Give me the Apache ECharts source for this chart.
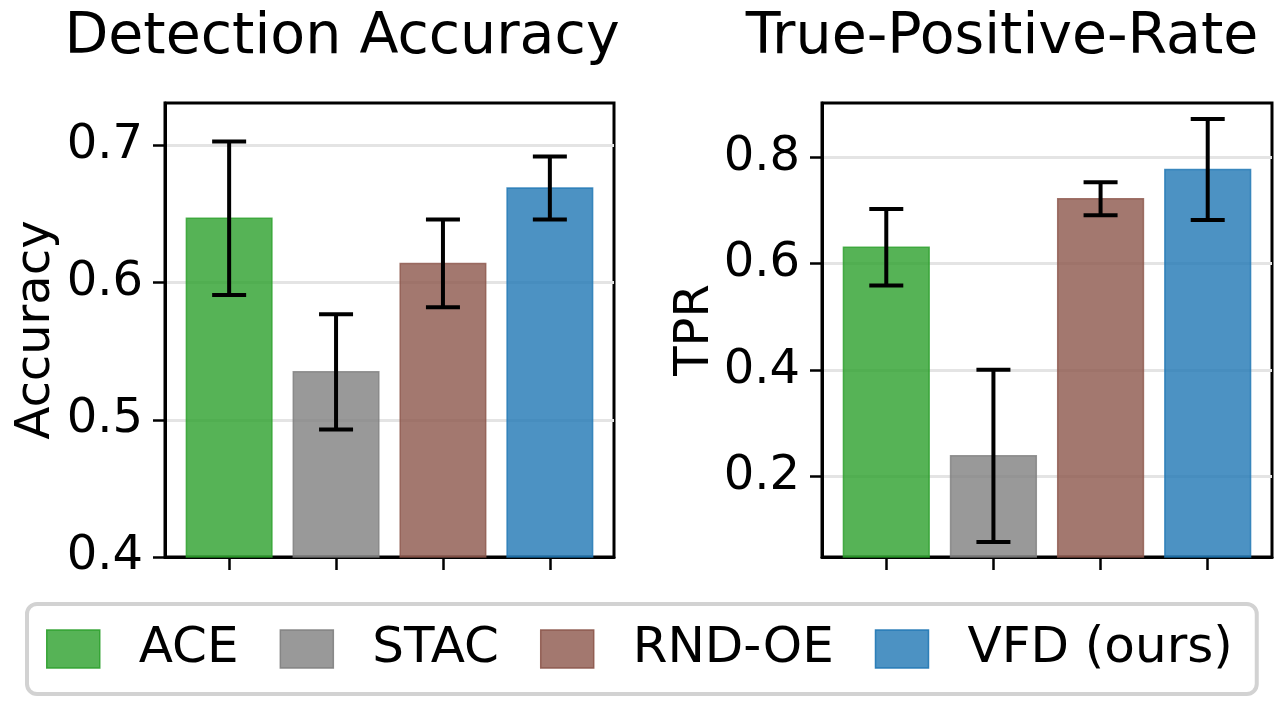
<!DOCTYPE html>
<html>
<head>
<meta charset="utf-8">
<script src="https://cdn.jsdelivr.net/npm/echarts@6/dist/echarts.min.js"></script>
<style>
    html, body { margin: 0; padding: 0; background: #fff; }
    #chart { width: 1280px; height: 703px; }
</style>
</head>
<body>
<div id="chart"></div>
<script>
// methods and their colours (matplotlib tab palette, drawn at alpha 0.8)
const methods = ['ACE', 'STAC', 'RND-OE', 'VFD (ours)'];
const colors = ['#2ca02c', '#7f7f7f', '#8c564b', '#1f77b4'];

// Detection accuracy: mean and std per method
const accMean = [0.647, 0.535, 0.614, 0.669];
const accStd = [0.056, 0.042, 0.032, 0.023];
const accTicks = [0.4, 0.5, 0.6, 0.7];
const accRange = [0.4, 0.731];

// True-positive-rate: mean and std per method
const tprMean = [0.631, 0.239, 0.722, 0.777];
const tprStd = [0.072, 0.162, 0.031, 0.095];
const tprTicks = [0.2, 0.4, 0.6, 0.8];
const tprRange = [0.049, 0.902];

const FONT = 'DejaVu Sans';
const BAR_W = 0.8;
const CAP = 17;

function hexToRgba(hex, a) {
    const n = parseInt(hex.slice(1), 16);
    return 'rgba(' + (n >> 16) + ',' + ((n >> 8) & 255) + ',' + (n & 255) + ',' + a + ')';
}

// bar with error bar, base of the bar is the axis minimum
function barRenderer(color, base) {
    return function (params, api) {
        const x = api.value(0);
        const mean = api.value(1);
        const std = api.value(2);
        const tl = api.coord([x - BAR_W / 2, mean]);
        const br = api.coord([x + BAR_W / 2, base]);
        const top = api.coord([x, mean + std]);
        const bottom = api.coord([x, mean - std]);
        const errStyle = {stroke: '#000', lineWidth: 4, lineCap: 'butt'};
        return {
            type: 'group',
            children: [
                {
                    type: 'rect',
                    shape: {x: tl[0], y: tl[1], width: br[0] - tl[0], height: br[1] - tl[1]},
                    style: {fill: color, stroke: color, lineWidth: 1.5, opacity: 0.8}
                },
                {
                    type: 'line',
                    shape: {x1: top[0], y1: top[1], x2: bottom[0], y2: bottom[1]},
                    style: errStyle
                },
                {
                    type: 'line',
                    shape: {x1: top[0] - CAP, y1: top[1], x2: top[0] + CAP, y2: top[1]},
                    style: errStyle
                },
                {
                    type: 'line',
                    shape: {x1: bottom[0] - CAP, y1: bottom[1], x2: bottom[0] + CAP, y2: bottom[1]},
                    style: errStyle
                }
            ]
        };
    };
}

function xAxisFor(gridIndex) {
    return {
        type: 'value',
        gridIndex: gridIndex,
        min: -0.6,
        max: 3.6,
        axisLine: {show: true, onZero: false, lineStyle: {color: '#000', width: 3}},
        axisTick: {show: true, customValues: [0, 1, 2, 3], length: 13, lineStyle: {color: '#000', width: 2.5}},
        axisLabel: {show: false},
        splitLine: {show: false}
    };
}

function yAxisFor(gridIndex, range, ticks, name, nameGap) {
    return {
        type: 'value',
        gridIndex: gridIndex,
        min: range[0],
        max: range[1],
        name: name,
        nameLocation: 'middle',
        nameGap: nameGap,
        nameTextStyle: {fontSize: 48, color: '#000', fontFamily: FONT},
        axisLine: {show: true, onZero: false, lineStyle: {color: '#000', width: 3}},
        axisTick: {show: true, customValues: ticks, length: 12, lineStyle: {color: '#000', width: 2.5}},
        axisLabel: {
            customValues: ticks,
            fontSize: 48,
            color: '#000',
            fontFamily: FONT,
            margin: 22,
            formatter: v => v.toFixed(1)
        },
        splitLine: {show: true, lineStyle: {color: '#e4e4e4', width: 3}}
    };
}

const series = [];
methods.forEach((m, i) => {
    series.push({
        type: 'custom',
        name: m,
        xAxisIndex: 0,
        yAxisIndex: 0,
        itemStyle: {color: colors[i]},
        renderItem: barRenderer(colors[i], accRange[0]),
        data: [[i, accMean[i], accStd[i]]]
    });
    series.push({
        type: 'custom',
        name: m,
        xAxisIndex: 1,
        yAxisIndex: 1,
        itemStyle: {color: colors[i]},
        renderItem: barRenderer(colors[i], tprRange[0]),
        data: [[i, tprMean[i], tprStd[i]]]
    });
});

const chart = echarts.init(document.getElementById('chart'), null, {renderer: 'canvas'});
chart.setOption({
    animation: false,
    backgroundColor: '#fff',
    textStyle: {fontFamily: FONT},
    title: [
        {
            text: 'Detection Accuracy',
            left: 337,
            top: 5,
            textAlign: 'center',
            textStyle: {fontSize: 57, fontWeight: 'normal', color: '#000', fontFamily: FONT}
        },
        {
            text: 'True-Positive-Rate',
            left: 997,
            top: 5,
            textAlign: 'center',
            textStyle: {fontSize: 57, fontWeight: 'normal', color: '#000', fontFamily: FONT}
        }
    ],
    grid: [
        {left: 165, top: 103, width: 449, height: 454, show: true, borderColor: '#000', borderWidth: 3},
        {left: 822, top: 103, width: 450, height: 454, show: true, borderColor: '#000', borderWidth: 3}
    ],
    xAxis: [xAxisFor(0), xAxisFor(1)],
    yAxis: [
        yAxisFor(0, accRange, accTicks, 'Accuracy', 104),
        yAxisFor(1, tprRange, tprTicks, 'TPR', 99)
    ],
    legend: {
        left: 27,
        top: 604,
        selectedMode: false,
        orient: 'horizontal',
        padding: [20, 24, 20, 19],
        itemGap: 41,
        itemWidth: 53,
        itemHeight: 38,
        borderColor: '#d2d2d2',
        borderWidth: 4,
        borderRadius: 10,
        textStyle: {fontSize: 50, color: '#000', fontFamily: FONT, lineHeight: 48, padding: [0, 0, 0, 34]},
        data: methods.map((m, i) => ({
            name: m,
            icon: 'rect',
            itemStyle: {color: hexToRgba(colors[i], 0.8), borderColor: hexToRgba(colors[i], 0.9), borderWidth: 1.5}
        }))
    },
    series: series
});
</script>
</body>
</html>
